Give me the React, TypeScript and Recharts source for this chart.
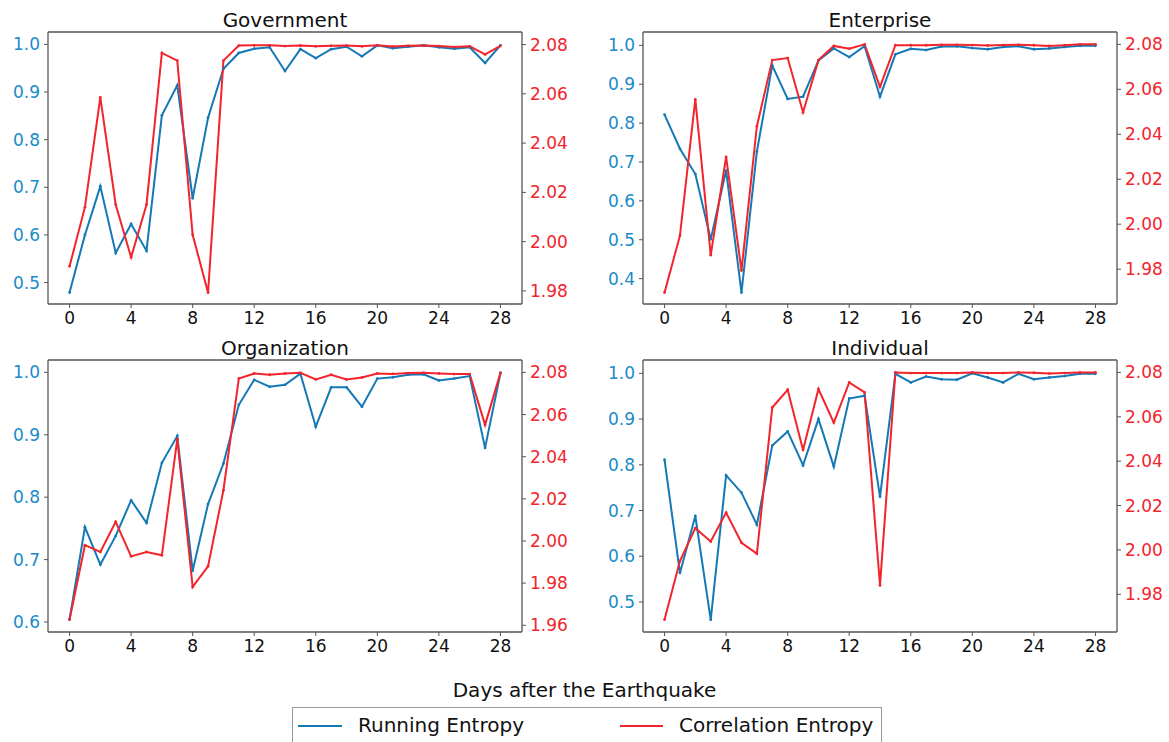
import { LineChart, Line, XAxis, YAxis, ReferenceLine } from 'recharts';

const days = [0, 1, 2, 3, 4, 5, 6, 7, 8, 9, 10, 11, 12, 13, 14, 15, 16, 17, 18, 19, 20, 21, 22, 23, 24, 25, 26, 27, 28];
const dayTicks = [0, 4, 8, 12, 16, 20, 24, 28];

const govRunning = [0.479, 0.6, 0.702, 0.562, 0.623, 0.567, 0.851, 0.914, 0.677, 0.846, 0.949, 0.982, 0.991, 0.994, 0.944, 0.99, 0.971, 0.99, 0.995, 0.975, 0.998, 0.992, 0.995, 0.998, 0.994, 0.991, 0.994, 0.961, 0.998];
const govCorrelation = [1.99, 2.014, 2.0586, 2.015, 1.9937, 2.015, 2.0766, 2.0735, 2.0028, 1.9793, 2.0735, 2.0796, 2.0797, 2.0797, 2.0794, 2.0796, 2.0793, 2.0795, 2.0796, 2.0793, 2.0797, 2.0792, 2.0795, 2.0796, 2.0794, 2.079, 2.0793, 2.076, 2.0795];

const entRunning = [0.822, 0.734, 0.669, 0.501, 0.678, 0.364, 0.727, 0.948, 0.862, 0.868, 0.961, 0.992, 0.97, 0.998, 0.868, 0.977, 0.991, 0.988, 0.997, 0.998, 0.993, 0.99, 0.996, 0.998, 0.99, 0.992, 0.996, 0.999, 0.999];
const entCorrelation = [1.9696, 1.9949, 2.0555, 1.9862, 2.0299, 1.9794, 2.0436, 2.073, 2.0739, 2.0498, 2.073, 2.0793, 2.0781, 2.08, 2.0611, 2.0796, 2.0796, 2.0796, 2.0798, 2.0798, 2.0797, 2.0795, 2.0797, 2.0798, 2.0796, 2.0793, 2.0796, 2.08, 2.08];

const orgRunning = [0.604, 0.752, 0.692, 0.738, 0.795, 0.759, 0.855, 0.898, 0.682, 0.789, 0.854, 0.948, 0.988, 0.977, 0.98, 0.998, 0.913, 0.976, 0.976, 0.945, 0.99, 0.992, 0.996, 0.997, 0.987, 0.99, 0.994, 0.879, 0.999];
const orgCorrelation = [1.9627, 1.998, 1.9948, 2.0091, 1.9927, 1.9948, 1.9932, 2.0483, 1.9782, 1.988, 2.0241, 2.0771, 2.0795, 2.0789, 2.0795, 2.0798, 2.0767, 2.0789, 2.0767, 2.0776, 2.0795, 2.0793, 2.0797, 2.0798, 2.0795, 2.0792, 2.0792, 2.0551, 2.0798];

const indRunning = [0.811, 0.5635, 0.688, 0.461, 0.777, 0.739, 0.669, 0.842, 0.873, 0.799, 0.9, 0.796, 0.945, 0.951, 0.73, 0.999, 0.98, 0.993, 0.987, 0.986, 1.0, 0.991, 0.98, 0.999, 0.987, 0.991, 0.994, 0.999, 0.999];
const indCorrelation = [1.9686, 1.995, 2.0098, 2.0038, 2.0168, 2.0032, 1.9983, 2.0642, 2.0722, 2.045, 2.0725, 2.0574, 2.0755, 2.071, 1.984, 2.08, 2.0797, 2.0797, 2.0797, 2.0797, 2.08, 2.0797, 2.0797, 2.08, 2.0798, 2.0795, 2.0797, 2.08, 2.08];

const BLUE = '#1479b5';
const BLUE_TEXT = '#1a8bc9';
const RED = '#f2242c';
const SPINE = '#555';
const FONT = '"DejaVu Sans", sans-serif';

const PLOT_W = 474;
const PLOT_H = 272;
const Y_LEFT_W = 48;
const Y_RIGHT_W = 62;
const TOP_PAD = 32;
const X_AXIS_H = 34;

function EntropyPanel({ title, running, correlation, leftDomain, leftTicks, rightDomain, rightTicks, boxLeft, boxTop }) {
  const data = days.map((d, i) => ({ day: d, running: running[i], correlation: correlation[i] }));
  const xDomain = [-1.4, 29.4];
  return (
    <div style={{ position: 'absolute', left: boxLeft - Y_LEFT_W, top: boxTop - TOP_PAD }}>
      <div
        style={{
          position: 'absolute',
          left: Y_LEFT_W,
          width: PLOT_W,
          top: 8,
          textAlign: 'center',
          fontSize: 20,
          lineHeight: '24px',
          fontFamily: FONT,
          color: '#111',
        }}
      >
        {title}
      </div>
      <LineChart
        width={Y_LEFT_W + PLOT_W + Y_RIGHT_W}
        height={TOP_PAD + PLOT_H + X_AXIS_H}
        data={data}
        margin={{ top: TOP_PAD, right: 0, left: 0, bottom: 0 }}
      >
        <XAxis
          dataKey="day"
          type="number"
          domain={xDomain}
          ticks={dayTicks}
          allowDataOverflow
          interval={0}
          height={X_AXIS_H}
          tickSize={4}
          tickMargin={4}
          axisLine={{ stroke: SPINE, strokeWidth: 1.3 }}
          tickLine={{ stroke: SPINE }}
          tick={{ fill: '#111', fontSize: 17, fontFamily: FONT }}
        />
        <YAxis
          yAxisId="left"
          domain={leftDomain}
          ticks={leftTicks}
          allowDataOverflow
          interval={0}
          width={Y_LEFT_W}
          tickSize={4}
          tickMargin={4}
          tickFormatter={(v) => v.toFixed(1)}
          axisLine={{ stroke: SPINE, strokeWidth: 1.3 }}
          tickLine={{ stroke: SPINE }}
          tick={{ fill: BLUE_TEXT, fontSize: 17, fontFamily: FONT }}
        />
        <YAxis
          yAxisId="right"
          orientation="right"
          domain={rightDomain}
          ticks={rightTicks}
          allowDataOverflow
          interval={0}
          width={Y_RIGHT_W}
          tickSize={4}
          tickMargin={4}
          tickFormatter={(v) => v.toFixed(2)}
          axisLine={{ stroke: SPINE, strokeWidth: 1.3 }}
          tickLine={{ stroke: SPINE }}
          tick={{ fill: RED, fontSize: 17, fontFamily: FONT }}
        />
        {/* top spine of the box */}
        <ReferenceLine yAxisId="left" y={leftDomain[1]} stroke={SPINE} strokeWidth={1.3} ifOverflow="visible" />
        <Line
          yAxisId="left"
          dataKey="running"
          type="linear"
          stroke={BLUE}
          strokeWidth={2}
          dot={{ r: 1.4, fill: BLUE, stroke: BLUE, strokeWidth: 0 }}
          isAnimationActive={false}
        />
        <Line
          yAxisId="right"
          dataKey="correlation"
          type="linear"
          stroke={RED}
          strokeWidth={2}
          dot={{ r: 1.4, fill: RED, stroke: RED, strokeWidth: 0 }}
          isAnimationActive={false}
        />
      </LineChart>
    </div>
  );
}

export default function App() {
  return (
    <div
      style={{
        position: 'absolute',
        left: 0,
        top: 0,
        width: 1169,
        height: 742,
        overflow: 'hidden',
        background: '#fff',
        fontFamily: FONT,
      }}
    >
      <EntropyPanel
        title="Government"
        running={govRunning}
        correlation={govCorrelation}
        leftDomain={[0.455, 1.026]}
        leftTicks={[0.5, 0.6, 0.7, 0.8, 0.9, 1.0]}
        rightDomain={[1.9747, 2.0851]}
        rightTicks={[1.98, 2.0, 2.02, 2.04, 2.06, 2.08]}
        boxLeft={48}
        boxTop={32}
      />
      <EntropyPanel
        title="Enterprise"
        running={entRunning}
        correlation={entCorrelation}
        leftDomain={[0.3347, 1.0344]}
        leftTicks={[0.4, 0.5, 0.6, 0.7, 0.8, 0.9, 1.0]}
        rightDomain={[1.9645, 2.0855]}
        rightTicks={[1.98, 2.0, 2.02, 2.04, 2.06, 2.08]}
        boxLeft={643}
        boxTop={32}
      />
      <EntropyPanel
        title="Organization"
        running={orgRunning}
        correlation={orgCorrelation}
        leftDomain={[0.584, 1.0198]}
        leftTicks={[0.6, 0.7, 0.8, 0.9, 1.0]}
        rightDomain={[1.9568, 2.0859]}
        rightTicks={[1.96, 1.98, 2.0, 2.02, 2.04, 2.06, 2.08]}
        boxLeft={48}
        boxTop={360}
      />
      <EntropyPanel
        title="Individual"
        running={indRunning}
        correlation={indCorrelation}
        leftDomain={[0.4343, 1.0292]}
        leftTicks={[0.5, 0.6, 0.7, 0.8, 0.9, 1.0]}
        rightDomain={[1.963, 2.0856]}
        rightTicks={[1.98, 2.0, 2.02, 2.04, 2.06, 2.08]}
        boxLeft={643}
        boxTop={360}
      />

      <div
        style={{
          position: 'absolute',
          left: 0,
          width: 1169,
          top: 678,
          textAlign: 'center',
          fontSize: 20,
          lineHeight: '24px',
          color: '#111',
        }}
      >
        Days after the Earthquake
      </div>

      <div
        style={{
          position: 'absolute',
          left: 292,
          top: 707,
          width: 590,
          height: 60,
          border: '1px solid #999',
          boxSizing: 'border-box',
          fontSize: 20,
          color: '#111',
        }}
      >
        <div style={{ position: 'absolute', left: 5, top: 16.5, width: 44, height: 2.5, background: BLUE }} />
        <div style={{ position: 'absolute', left: 65, top: 4.5, lineHeight: '24px' }}>Running Entropy</div>
        <div style={{ position: 'absolute', left: 327, top: 16.5, width: 43, height: 2.5, background: RED }} />
        <div style={{ position: 'absolute', left: 386, top: 4.5, lineHeight: '24px' }}>Correlation Entropy</div>
      </div>
    </div>
  );
}
